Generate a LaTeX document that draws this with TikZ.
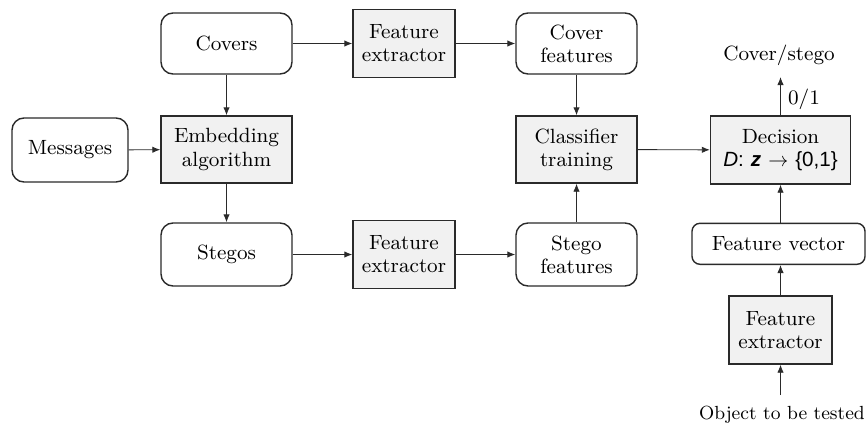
\documentclass[tikz,border=0pt]{standalone}
\usepackage{fontspec}
\setmainfont{lmroman9-regular.otf}[ItalicFont=lmroman9-italic.otf, BoldFont=lmroman9-bold.otf]
\newfontfamily\dsans{Liberation Sans}
\usetikzlibrary{arrows.meta}
\definecolor{edge}{HTML}{2A2A2A}
\definecolor{boxfill}{HTML}{F1F1F1}
\tikzset{
  base/.style={draw=edge, line width=0.7pt, align=center, inner sep=0pt,
    font=\fontsize{10.3}{11.6}\selectfont},
  datum/.style={base, rounded corners=6pt, fill=white},
  proc/.style={base, fill=boxfill},
  lbl/.style={inner sep=0pt, font=\fontsize{10.3}{11.6}\selectfont},
  arr/.style={draw=edge, line width=0.45pt, -{Latex[length=4pt,width=3.2pt]}}
}
\begin{document}
\begin{tikzpicture}[x=0.5pt,y=-0.5pt]
\useasboundingbox (0,0) rectangle (866,428);
% left column: covers, embedding, stegos
\node[datum, minimum width=65.5pt, minimum height=30.5pt] (covers) at (226.5,43.5) {Covers};
\node[proc,  minimum width=65.5pt, minimum height=33.5pt] (emb) at (226.5,149.5) {Embedding\\algorithm};
\node[datum, minimum width=65.5pt, minimum height=31.5pt] (stegos) at (226.5,254.5) {Stegos};
\node[datum, minimum width=58pt, minimum height=32pt] (msg) at (70,150) {Messages};
% feature extraction
\node[proc, minimum width=51pt, minimum height=34pt] (fe1) at (404,43.5) {Feature\\extractor};
\node[proc, minimum width=51pt, minimum height=34pt] (fe2) at (404,254.5) {Feature\\extractor};
\node[datum, minimum width=60.5pt, minimum height=30.5pt] (cf) at (576.5,43.5) {Cover\\features};
\node[datum, minimum width=60.5pt, minimum height=31.5pt] (sf) at (576.5,254.5) {Stego\\features};
\node[proc, minimum width=60.5pt, minimum height=33.5pt] (ct) at (576.5,149.5) {Classifier\\training};
% decision branch
\node[proc, minimum width=70pt, minimum height=34pt] (dec) at (780.5,150)
  {Decision\\{\dsans\itshape D}{\dsans :} {\dsans\bfseries\itshape z} $\rightarrow$ {\dsans\{0,1\}}};
\node[datum, minimum width=86.5pt, minimum height=20.5pt, rounded corners=4pt] (fv) at (778.5,243.8) {Feature vector};
\node[proc, minimum width=51.5pt, minimum height=34pt] (fe3) at (780.5,330) {Feature\\extractor};
\node[lbl, anchor=base, font=\fontsize{9.5}{11}\selectfont] (obj) at (782,419) {Object to be tested};
\node[lbl, anchor=base] (cs) at (779,60) {Cover/stego};
\node[lbl] (bit) at (804,99) {0/1};
\coordinate (csin) at (780.5,77);
\coordinate (objout) at (780.5,395);
% connectors
\draw[arr] (covers) -- (fe1);
\draw[arr] (fe1) -- (cf);
\draw[arr] (covers) -- (emb);
\draw[arr] (msg) -- (emb);
\draw[arr] (emb) -- (stegos);
\draw[arr] (stegos) -- (fe2);
\draw[arr] (fe2) -- (sf);
\draw[arr] (cf) -- (ct);
\draw[arr] (sf) -- (ct);
\draw[arr] (ct) -- (dec);
\draw[arr] (objout) -- (fe3);
\draw[arr] (fe3) -- (fe3 |- fv.south);
\draw[arr] (fe3 |- fv.north) -- (dec);
\draw[arr] (dec) -- (csin);
\end{tikzpicture}
\end{document}
